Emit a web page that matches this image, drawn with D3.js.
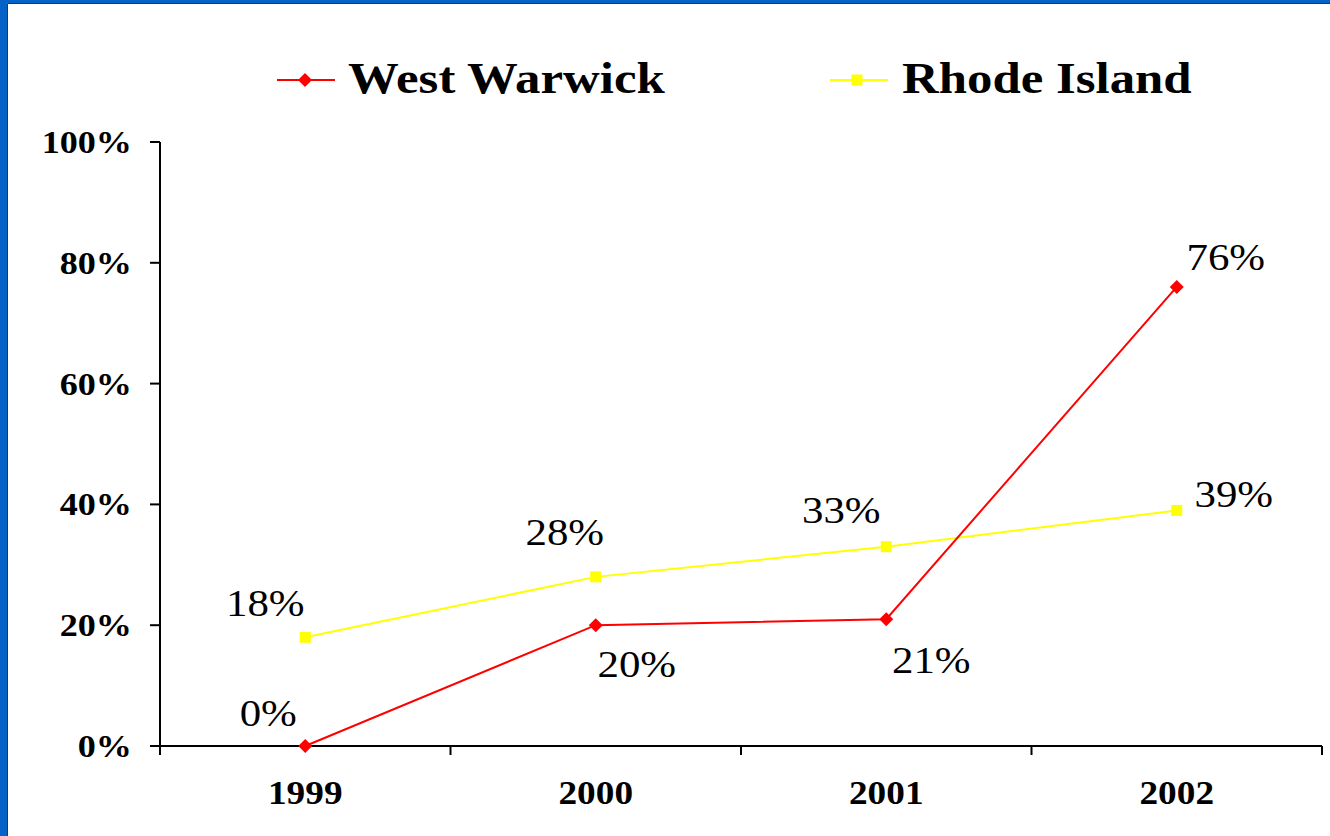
<!DOCTYPE html>
<html>
<head>
<meta charset="utf-8">
<script src="https://cdn.jsdelivr.net/npm/d3@7"></script>
<style>
  html, body { margin: 0; padding: 0; background: #fff; }
</style>
</head>
<body>
<div id="chart"></div>
<script>
// data
var years = ["1999", "2000", "2001", "2002"];
var westWarwick = [0, 20, 21, 76];
var rhodeIsland = [18, 28, 33, 39];
var yTicks = [0, 20, 40, 60, 80, 100];

// label nudges (px) for the value labels, same order as years
var wwLabelOffset = [[-37, -20], [41, 52], [45, 54], [49, -17]];
var riLabelOffset = [[-40, -21], [-31, -32], [-45, -24], [57, -3]];

var W = 1330, H = 836;
var stretch = 1.13; // the source text is a little wide
var FONT = "'Liberation Serif', 'Times New Roman', Tinos, 'Nimbus Roman', FreeSerif, 'DejaVu Serif', serif";

var svg = d3.select("#chart").append("svg")
    .attr("width", W)
    .attr("height", H);

svg.append("rect").attr("width", W).attr("height", H).attr("fill", "#fff");

// blue frame on left and top
svg.append("rect").attr("x", 0).attr("y", 0).attr("width", 7).attr("height", H).attr("fill", "#0563C8");
svg.append("rect").attr("x", 0).attr("y", 0).attr("width", W).attr("height", 3).attr("fill", "#0563C8");
svg.append("path").attr("d", "M7.5," + H + "V3.5H" + W)
    .attr("fill", "none").attr("stroke", "#333").attr("stroke-width", 1);

var x0 = 160, x1 = 1322, yTop = 142, yBot = 746;

var x = d3.scaleBand().domain(years).range([x0, x1]);
var y = d3.scaleLinear().domain([0, 100]).range([yBot, yTop]);

function sText(g, tx, ty, str, size, weight, anchor, sx) {
    return g.append("text")
        .attr("transform", "translate(" + tx + "," + ty + ") scale(" + sx + ",1)")
        .attr("text-anchor", anchor)
        .attr("font-family", FONT)
        .attr("font-size", size)
        .attr("font-weight", weight)
        .attr("fill", "#000")
        .text(str);
}

// axes
var axes = svg.append("g").attr("stroke", "#000").attr("stroke-width", 2);
axes.append("line").attr("x1", x0).attr("x2", x0).attr("y1", yTop).attr("y2", yBot + 9);
axes.append("line").attr("x1", x0 - 10).attr("x2", x1).attr("y1", yBot).attr("y2", yBot);
yTicks.forEach(function (t) {
    axes.append("line").attr("x1", x0 - 10).attr("x2", x0).attr("y1", y(t)).attr("y2", y(t));
});
years.forEach(function (yr) {
    var bx = x(yr) + x.bandwidth();
    axes.append("line").attr("x1", bx).attr("x2", bx).attr("y1", yBot).attr("y2", yBot + 9);
});

var labels = svg.append("g");
yTicks.forEach(function (t) {
    sText(labels, 132, y(t) + 11, t + "%", 32, "bold", "end", stretch);
});
years.forEach(function (yr) {
    sText(labels, x(yr) + x.bandwidth() / 2, 804, yr, 33, "bold", "middle", stretch);
});

var cx = function (d, i) { return x(years[i]) + x.bandwidth() / 2; };

var line = d3.line()
    .x(function (d, i) { return x(years[i]) + x.bandwidth() / 2; })
    .y(function (d) { return y(d); });

// Rhode Island
svg.append("path").datum(rhodeIsland)
    .attr("d", line).attr("fill", "none")
    .attr("stroke", "#FFFF00").attr("stroke-width", 2);
svg.selectAll("rect.ri").data(rhodeIsland).enter().append("rect")
    .attr("class", "ri")
    .attr("x", function (d, i) { return cx(d, i) - 5.5; })
    .attr("y", function (d) { return y(d) - 5.5; })
    .attr("width", 11).attr("height", 11)
    .attr("fill", "#FFFF00");

// West Warwick
svg.append("path").datum(westWarwick)
    .attr("d", line).attr("fill", "none")
    .attr("stroke", "#FF0000").attr("stroke-width", 2);
var diamond = "M0,-7L7,0L0,7L-7,0Z";
svg.selectAll("path.ww").data(westWarwick).enter().append("path")
    .attr("class", "ww")
    .attr("d", diamond)
    .attr("transform", function (d, i) { return "translate(" + cx(d, i) + "," + y(d) + ")"; })
    .attr("fill", "#FF0000");

// value labels
var vals = svg.append("g");
rhodeIsland.forEach(function (d, i) {
    sText(vals, cx(d, i) + riLabelOffset[i][0], y(d) + riLabelOffset[i][1], d + "%", 38, "normal", "middle", stretch);
});
westWarwick.forEach(function (d, i) {
    sText(vals, cx(d, i) + wwLabelOffset[i][0], y(d) + wwLabelOffset[i][1], d + "%", 38, "normal", "middle", stretch);
});

// legend
var leg = svg.append("g");
leg.append("line").attr("x1", 277).attr("x2", 335).attr("y1", 80).attr("y2", 80)
    .attr("stroke", "#FF0000").attr("stroke-width", 2);
leg.append("path").attr("d", diamond).attr("transform", "translate(305,80)").attr("fill", "#FF0000");
sText(leg, 348, 93, "West Warwick", 45, "bold", "start", stretch);

leg.append("line").attr("x1", 830).attr("x2", 888).attr("y1", 80).attr("y2", 80)
    .attr("stroke", "#FFFF00").attr("stroke-width", 2);
leg.append("rect").attr("x", 851.5).attr("y", 74.5).attr("width", 11).attr("height", 11).attr("fill", "#FFFF00");
sText(leg, 902, 93, "Rhode Island", 45, "bold", "start", stretch);
</script>
</body>
</html>
